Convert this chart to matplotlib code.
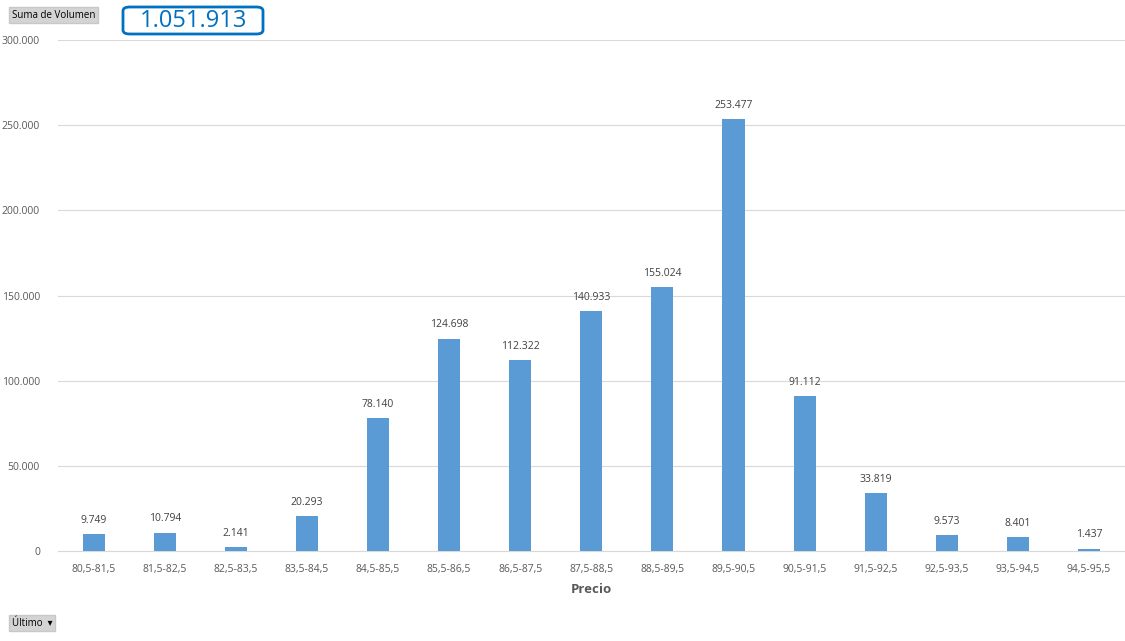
import matplotlib.pyplot as plt
from matplotlib.patches import FancyBboxPatch

# Data
categorias = ['80,5-81,5', '81,5-82,5', '82,5-83,5', '83,5-84,5', '84,5-85,5',
              '85,5-86,5', '86,5-87,5', '87,5-88,5', '88,5-89,5', '89,5-90,5',
              '90,5-91,5', '91,5-92,5', '92,5-93,5', '93,5-94,5', '94,5-95,5']
volumen = [9749, 10794, 2141, 20293, 78140, 124698, 112322, 140933,
           155024, 253477, 91112, 33819, 9573, 8401, 1437]
y_ticks = [0, 50000, 100000, 150000, 200000, 250000, 300000]
total = 1051913


def fmt(v):
    return f'{v:,}'.replace(',', '.')


plt.rcParams['font.family'] = ['Open Sans', 'DejaVu Sans']

fig = plt.figure(figsize=(11.25, 6.41), dpi=100)
ax = fig.add_axes([0.0516, 0.1404, 0.948, 0.7972])

x = range(len(categorias))
bars = ax.bar(x, volumen, width=0.31, color='#5B9BD5', zorder=3)
for b, v in zip(bars, volumen):
    ax.text(b.get_x() + b.get_width() / 2, v + 4800, fmt(v),
            ha='center', va='bottom', fontsize=7.5, color='#404040')

ax.set_xlim(-0.5, len(categorias) - 0.5)
ax.set_ylim(0, 300000)
ax.set_yticks(y_ticks)
ax.set_yticklabels(['0'] + [fmt(t) for t in y_ticks[1:]])
ax.set_xticks(list(x))
ax.set_xticklabels(categorias)
ax.tick_params(axis='both', length=0, labelsize=7.5, colors='#595959')
ax.tick_params(axis='x', pad=9)
ax.tick_params(axis='y', pad=13)
ax.grid(axis='y', color='#d9d9d9', linewidth=0.8, zorder=0)
for s in ['top', 'right', 'left']:
    ax.spines[s].set_visible(False)
ax.spines['bottom'].set_color('#d9d9d9')
ax.set_xlabel('Precio', fontsize=9.5, fontweight='bold', color='#595959', labelpad=6)

# Field buttons
fig.text(12 / 1125, 1 - 15 / 641, 'Suma de Volumen', fontsize=7, color='#000000',
         va='center', ha='left',
         bbox=dict(boxstyle='square,pad=0.3', fc='#d4d4d4', ec='#c8c8c8'))
fig.text(12 / 1125, 1 - 623 / 641, 'Último  ▾', fontsize=7, color='#000000',
         va='center', ha='left',
         bbox=dict(boxstyle='square,pad=0.3', fc='#d4d4d4', ec='#c8c8c8'))

# Total box
box = FancyBboxPatch((123 / 1125, 1 - 34 / 641), 140 / 1125, 27 / 641,
                     boxstyle='round,pad=0,rounding_size=0.006',
                     transform=fig.transFigure, fc='white', ec='#0070C0', lw=2)
fig.patches.append(box)
fig.text(193 / 1125, 1 - 21 / 641, fmt(total), fontsize=17, color='#0070C0',
         ha='center', va='center')

fig.savefig('out.png', dpi=100)
